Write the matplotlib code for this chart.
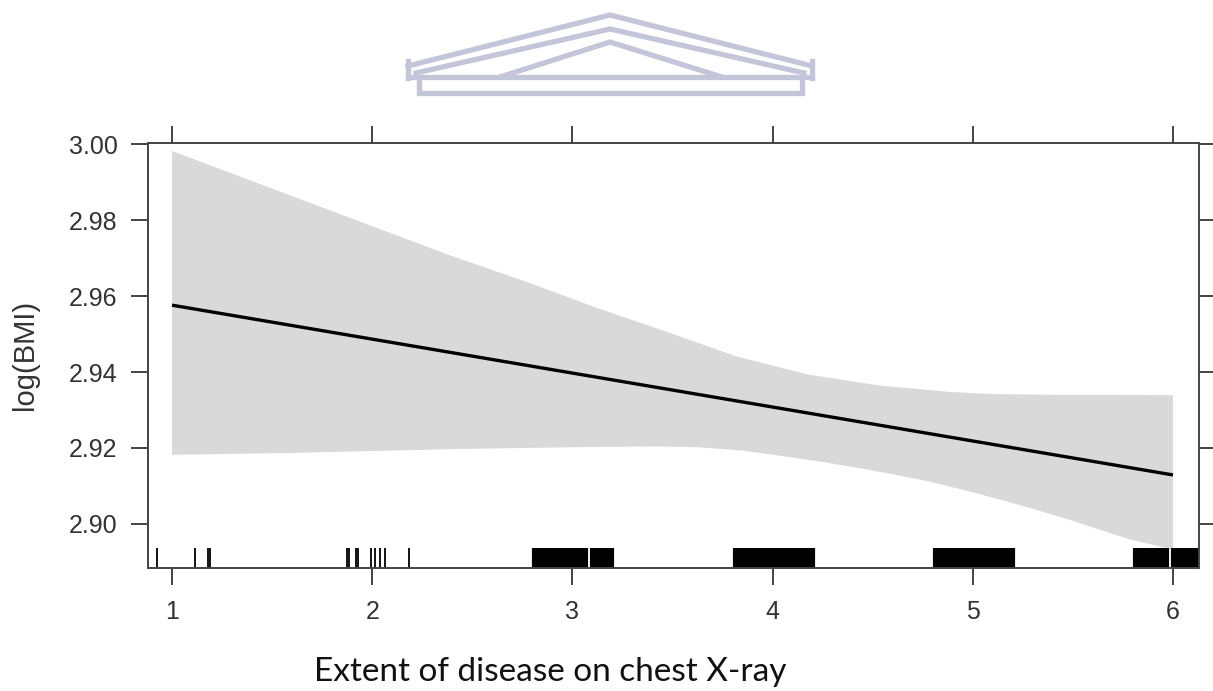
import matplotlib
matplotlib.use("Agg")
from matplotlib import pyplot as plt
from matplotlib.lines import Line2D

# ---- effect of chest X-ray extent on log(BMI) ----
fit_x = [1.0, 6.0]
fit_y = [2.9576, 2.9129]

# confidence band, upper and lower edges
upper_x = [1.0, 1.5, 2.0, 2.4, 2.8, 3.11, 3.46, 3.82, 4.18, 4.54, 4.90, 5.11, 5.4, 6.0]
upper_y = [2.9982, 2.9883, 2.9784, 2.9705, 2.9632, 2.9571, 2.9508, 2.9441, 2.9393,
           2.9364, 2.9347, 2.9342, 2.9340, 2.9339]
lower_x = [1.0, 1.6, 2.4, 3.0, 3.4, 3.63, 3.85, 4.06, 4.25, 4.42, 4.6, 4.77, 4.95,
           5.13, 5.3, 5.5, 5.65, 5.78, 5.9, 6.0]
lower_y = [2.9182, 2.9187, 2.9197, 2.9202, 2.9204, 2.9202, 2.9193, 2.9178, 2.9163,
           2.9148, 2.9131, 2.9113, 2.9090, 2.9065, 2.9040, 2.9008, 2.8982, 2.8960,
           2.8945, 2.8932]

# jittered observations shown as a rug
rug_sparse = [0.925, 1.115, 1.18, 1.19, 1.875, 1.885, 1.92, 1.93, 1.995, 2.015,
              2.04, 2.065, 2.185]
rug_dense = [2.81, 2.83, 2.85, 2.87, 2.89, 2.91, 2.93, 2.95, 2.97, 2.99, 3.01, 3.03,
             3.05, 3.07, 3.10, 3.12, 3.14, 3.16, 3.18, 3.20,
             3.81, 3.83, 3.85, 3.87, 3.89, 3.91, 3.93, 3.95, 3.97, 3.99, 4.01, 4.03,
             4.05, 4.07, 4.09, 4.11, 4.13, 4.15, 4.17, 4.19, 4.20,
             4.81, 4.83, 4.85, 4.87, 4.89, 4.91, 4.93, 4.95, 4.97, 4.99, 5.01, 5.03,
             5.05, 5.07, 5.09, 5.11, 5.13, 5.15, 5.17, 5.19, 5.20,
             5.81, 5.83, 5.85, 5.87, 5.89, 5.91, 5.93, 5.95, 5.97,
             6.00, 6.02, 6.04, 6.06, 6.08, 6.10, 6.12]

xticks = [1, 2, 3, 4, 5, 6]
yticks = [2.90, 2.92, 2.94, 2.96, 2.98, 3.00]

plt.rcParams['font.family'] = ['Liberation Sans', 'DejaVu Sans']

fig = plt.figure(figsize=(12.13, 6.91), dpi=100)
ax = fig.add_axes([148/1213, 1 - 568/691, (1199-148)/1213, (568-143)/691])

# band as one closed polygon: along the top, back along the bottom
band_x = upper_x + lower_x[::-1]
band_y = upper_y + lower_y[::-1]
ax.fill(band_x, band_y, color='#d9d9d9', lw=0)
ax.plot(fit_x, fit_y, color='black', lw=2.4, solid_capstyle='butt')

tr = ax.get_xaxis_transform()
ax.vlines(rug_sparse, 0, 0.047, transform=tr, color='black', lw=1.3)
ax.vlines(rug_dense, 0, 0.047, transform=tr, color='black', lw=3.0)

ax.set_xlim(0.88, 6.13)
ax.set_ylim(2.8884, 3.0003)
ax.set_xticks(xticks)
ax.set_yticks(yticks)
ax.set_yticklabels(['%.2f' % v for v in yticks])
ax.tick_params(direction='out', length=12, width=1.4, color='#444444',
               labelsize=18, labelcolor='#333333',
               top=True, right=True, labeltop=False, labelright=False)
ax.tick_params(axis='x', pad=11)
ax.tick_params(axis='y', pad=10)
for s in ax.spines.values():
    s.set_color('#444444')
    s.set_linewidth(1.4)

fig.text(25/1213, 1 - 355/691, 'log(BMI)', rotation=90, fontsize=21,
         color='#333333', ha='center', va='center')
fig.text(550/1213, 1 - 672/691, 'Extent of disease on chest X-ray',
         family=['Lato', 'DejaVu Sans'], fontsize=24, color='#111111',
         ha='center', va='center')

# faded roof emblem above the panel
ov = fig.add_axes([0, 0, 1, 1], zorder=-1)
ov.set_xlim(0, 1213)
ov.set_ylim(691, 0)
ov.axis('off')
logo_col = '#c3c5d9'
roof = [
    [(408, 66), (610, 15), (812, 66)],
    [(416, 73), (610, 29), (804, 73)],
    [(500, 77), (610, 42), (722, 77)],
    [(408, 77), (812, 77)],
    [(408, 61), (408, 78)],
    [(812, 61), (812, 78)],
    [(419, 78), (419, 93), (802, 93), (802, 78)],
]
for seg in roof:
    xs, ys = zip(*seg)
    ov.add_line(Line2D(xs, ys, color=logo_col, lw=3.8, solid_joinstyle='miter'))

fig.savefig('out.png', dpi=100)
